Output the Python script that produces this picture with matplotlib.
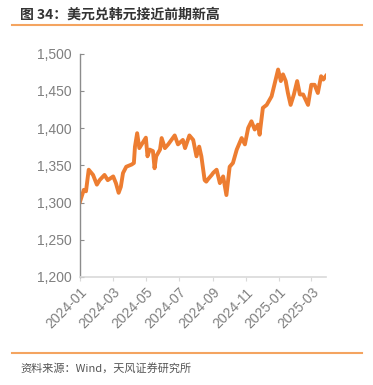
import matplotlib
matplotlib.use("Agg")
import matplotlib.pyplot as plt
import matplotlib.dates as mdates
from matplotlib.ticker import FuncFormatter
import pandas as pd

plt.rcParams['font.family'] = ['Liberation Sans', 'Noto Sans CJK SC', 'DejaVu Sans']

dates = ["2024-01-01", "2024-01-08", "2024-01-12", "2024-01-17", "2024-01-25", "2024-02-01",
         "2024-02-06", "2024-02-15", "2024-02-21", "2024-03-02", "2024-03-07", "2024-03-12",
         "2024-03-16", "2024-03-20", "2024-03-26", "2024-04-05", "2024-04-09", "2024-04-11",
         "2024-04-15", "2024-04-19", "2024-04-25", "2024-05-01", "2024-05-04", "2024-05-08",
         "2024-05-14", "2024-05-17", "2024-05-20", "2024-05-27", "2024-05-30", "2024-06-05",
         "2024-06-11", "2024-06-23", "2024-06-29", "2024-07-08", "2024-07-12", "2024-07-20",
         "2024-07-27", "2024-08-02", "2024-08-07", "2024-08-11", "2024-08-17", "2024-08-20",
         "2024-08-23", "2024-08-30", "2024-09-02", "2024-09-08", "2024-09-14", "2024-09-20",
         "2024-09-26", "2024-10-02", "2024-10-08", "2024-10-15", "2024-10-24", "2024-10-30",
         "2024-11-05", "2024-11-11", "2024-11-17", "2024-11-23", "2024-11-26", "2024-12-02",
         "2024-12-09", "2024-12-18", "2024-12-24", "2024-12-30", "2025-01-04", "2025-01-08",
         "2025-01-13", "2025-01-17", "2025-01-22", "2025-01-28", "2025-02-03", "2025-02-08",
         "2025-02-14", "2025-02-23", "2025-03-01", "2025-03-07", "2025-03-13", "2025-03-19",
         "2025-03-23", "2025-03-28"]
usdkrw = [1301, 1317, 1315, 1344, 1337, 1324,
          1330, 1337, 1330, 1335, 1326, 1313,
          1321, 1339.5, 1348, 1351, 1353, 1375,
          1393, 1373, 1380, 1387, 1362, 1371,
          1369, 1346, 1362, 1371, 1386.5, 1373,
          1378, 1390, 1378, 1384, 1373, 1390,
          1384, 1362, 1375, 1362, 1330, 1328,
          1331, 1337, 1340, 1344, 1326, 1335,
          1310, 1348, 1353, 1371, 1386.5, 1378,
          1400, 1409, 1398, 1404.5, 1391, 1427,
          1431, 1442.5, 1460.5, 1478.5, 1463, 1472,
          1463, 1447, 1431, 1445, 1463, 1445,
          1445, 1431, 1458, 1458, 1447, 1469.5,
          1465, 1470]
xtick_labels = ["2024-01", "2024-03", "2024-05", "2024-07", "2024-09", "2024-11", "2025-01", "2025-03"]
yticks = [1200, 1250, 1300, 1350, 1400, 1450, 1500]

title = "图 34：美元兑韩元接近前期新高"
source = "资料来源：Wind，天风证券研究所"

x = pd.to_datetime(dates)

fig = plt.figure(figsize=(3.73, 3.85), dpi=100)
ax = fig.add_axes([80/373, 1-277/385, (326-80)/373, (277-53.5)/385])
ax.plot(x, usdkrw, color='#ED7D31', lw=2.8, solid_joinstyle='round')

ax.set_ylim(1200, 1500)
ax.set_yticks(yticks)
ax.yaxis.set_major_formatter(FuncFormatter(lambda v, p: f"{int(v):,}"))
ax.set_xlim(pd.Timestamp("2024-01-01"), x[-1])
ax.set_xticks(pd.to_datetime([s + "-01" for s in xtick_labels]))
ax.set_xticklabels(xtick_labels, rotation=45, ha='right', rotation_mode='anchor')

for s in ['top', 'right']:
    ax.spines[s].set_visible(False)
ax.spines['left'].set_color('#8c8c8c')
ax.spines['bottom'].set_color('#d9d9d9')
ax.spines['left'].set_linewidth(1.0)
ax.spines['bottom'].set_linewidth(1.2)
ax.tick_params(axis='y', direction='in', length=3, color='#8c8c8c', labelcolor='#7f7f7f', labelsize=10, pad=6)
ax.tick_params(axis='x', direction='out', length=3, color='#d9d9d9', labelcolor='#7f7f7f', labelsize=10, pad=3)

fig.text(20/373, 1-15/385, title, fontsize=10, fontweight='bold', color='#333333',
         family=['Noto Sans CJK SC', 'DejaVu Sans'], va='center', ha='left')
fig.add_artist(plt.Line2D([12/373, 362/373], [1-25/385, 1-25/385], color='#F4A460', lw=1.5))
fig.add_artist(plt.Line2D([12/373, 362/373], [1-353/385, 1-353/385], color='#F4A460', lw=1.5))
fig.text(20/373, 1-368/385, source, fontsize=8, color='#555555',
         family=['Noto Sans CJK SC', 'DejaVu Sans'], va='center', ha='left')

fig.savefig("out.png", dpi=100)
